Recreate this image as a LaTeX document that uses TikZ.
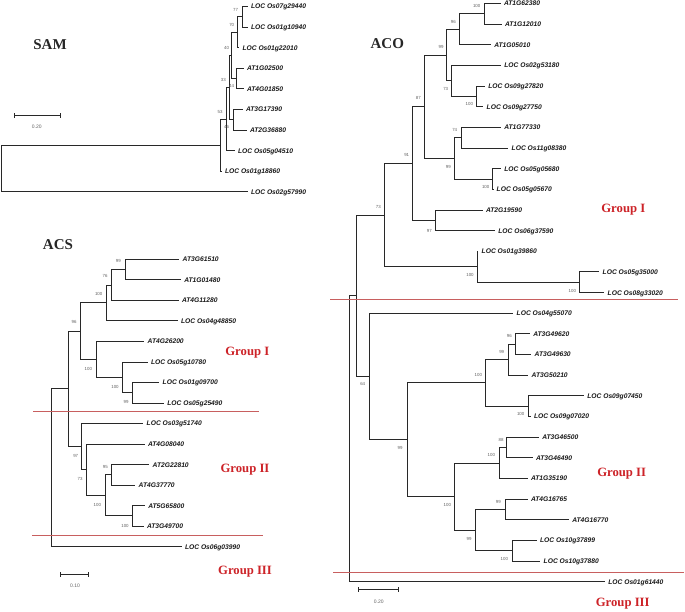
\documentclass[tikz,border=0pt]{standalone}
\usepackage{fontspec}
\setmainfont{Liberation Serif}
\newfontfamily\arialf{Liberation Sans}
\usetikzlibrary{arrows.meta}
\definecolor{treecol}{RGB}{40,40,40}
\definecolor{bootcol}{RGB}{100,100,100}
\definecolor{grpred}{RGB}{205,35,40}
\definecolor{sepcol}{RGB}{200,95,95}
\tikzset{
  tree/.style={draw=treecol, line width=0.95pt},
  leaf/.style={anchor=west, inner xsep=3.5pt, inner ysep=0pt, outer sep=0pt, text height=4.8pt, text depth=0pt, font=\arialf\bfseries\itshape\fontsize{6.7}{7}\selectfont, text=black!90},
  boot/.style={inner sep=0pt, font=\arialf\fontsize{4.4}{5}\selectfont, text=bootcol},
  title/.style={inner sep=0pt, font=\bfseries\fontsize{15}{17}\selectfont, text=black!85},
  grp/.style={inner sep=0pt, font=\bfseries\fontsize{12.7}{14}\selectfont, text=grpred},
  sep/.style={draw=sepcol, line width=1pt},
  sbar/.style={draw=treecol, line width=1pt, {Bar[width=4.5pt]}-{Bar[width=4.5pt]}},
  sblab/.style={inner sep=0pt, font=\arialf\fontsize{5}{6}\selectfont, text=bootcol}
}
\newcommand\lf[4]{\node[leaf] (#1) at (#2,#3) {#4};}
\newcommand\bs[3]{\node[boot] at (#1,#2) {#3};}
\newcommand\br[2]{\draw[tree] (#1) |- (#2);}
\begin{document}
\begin{tikzpicture}[x=1pt,y=-1pt]
\useasboundingbox[fill=white] (0,0) rectangle (685,611);

%================ SAM =================
\node[title] (samT) at (50,45) {SAM};
\lf{s1}{247.5}{6.5}{LOC Os07g29440}
\lf{s2}{247.5}{27.1}{LOC Os01g10940}
\lf{s3}{239}{47.7}{LOC Os01g22010}
\lf{s4}{243.5}{68.3}{AT1G02500}
\lf{s5}{243.5}{88.9}{AT4G01850}
\lf{s6}{242.5}{109.5}{AT3G17390}
\lf{s7}{246.5}{130.1}{AT2G36880}
\lf{s8}{234.5}{150.7}{LOC Os05g04510}
\lf{s9}{221.5}{171.3}{LOC Os01g18860}
\lf{s10}{247.5}{191.9}{LOC Os02g57990}
\coordinate (sa) at (242,16.8);
\coordinate (sb) at (237.5,32.25);
\coordinate (sc) at (236.5,78.6);
\coordinate (sd) at (231,55.4);
\coordinate (se) at (233,119.8);
\coordinate (sf) at (229,87.6);
\coordinate (sg) at (226.5,119.2);
\coordinate (sh) at (220,145.2);
\coordinate (sr) at (1,168.5);
\br{sa}{s1.west}\br{sa}{s2.west}
\br{sb}{sa}\br{sb}{s3.west}
\br{sc}{s4.west}\br{sc}{s5.west}
\br{sd}{sb}\br{sd}{sc}
\br{se}{s6.west}\br{se}{s7.west}
\br{sf}{sd}\br{sf}{se}
\br{sg}{sf}\br{sg}{s8.west}
\br{sh}{sg}\br{sh}{s9.west}
\br{sr}{sh}\br{sr}{s10.west}
\bs{235.5}{10}{77}
\bs{231.7}{25}{70}
\bs{226.5}{48.3}{40}
\bs{223.3}{80}{33}
\bs{231.5}{86}{44}
\bs{220}{112.3}{53}
\bs{226.5}{126.7}{46}
\coordinate (sb1) at (14.3,115.5);
\coordinate (sb2) at (61,115.5);
\draw[sbar] (sb1) -- (sb2);
\node[sblab] (sbl) at (36.7,127) {0.20};

%================ ACS =================
\node[title] (acsT) at (58,245) {ACS};
\lf{a1}{179.2}{259.3}{AT3G61510}
\lf{a2}{180.8}{279.8}{AT1G01480}
\lf{a3}{178.5}{300.4}{AT4G11280}
\lf{a4}{177.5}{320.9}{LOC Os04g48850}
\lf{a5}{144.2}{341.4}{AT4G26200}
\lf{a6}{147.5}{362.0}{LOC Os05g10780}
\lf{a7}{159.2}{382.5}{LOC Os01g09700}
\lf{a8}{163.8}{403.0}{LOC Os05g25490}
\lf{a9}{143.2}{423.5}{LOC Os03g51740}
\lf{a10}{144.5}{444.1}{AT4G08040}
\lf{a11}{149.2}{464.6}{AT2G22810}
\lf{a12}{135.2}{485.1}{AT4G37770}
\lf{a13}{144.8}{505.7}{AT5G65800}
\lf{a14}{143.5}{526.2}{AT3G49700}
\lf{a15}{181.5}{546.7}{LOC Os06g03990}
\coordinate (aa) at (125.3,269.55);
\coordinate (ab) at (111,285);
\coordinate (ac) at (106,302.95);
\coordinate (ad) at (132.7,392.75);
\coordinate (ae) at (122.7,377.4);
\coordinate (af) at (96,359.4);
\coordinate (ag) at (80,331.2);
\coordinate (ah) at (132.7,515.95);
\coordinate (ai) at (111.7,474.85);
\coordinate (aj) at (105,495.4);
\coordinate (ak) at (86.7,469.75);
\coordinate (al) at (81.7,446.6);
\coordinate (am) at (68.3,388.9);
\coordinate (ar) at (51,467.8);
\br{aa}{a1.west}\br{aa}{a2.west}
\br{ab}{aa}\br{ab}{a3.west}
\br{ac}{ab}\br{ac}{a4.west}
\br{ad}{a7.west}\br{ad}{a8.west}
\br{ae}{a6.west}\br{ae}{ad}
\br{af}{a5.west}\br{af}{ae}
\br{ag}{ac}\br{ag}{af}
\br{ah}{a13.west}\br{ah}{a14.west}
\br{ai}{a11.west}\br{ai}{a12.west}
\br{aj}{ai}\br{aj}{ah}
\br{ak}{a10.west}\br{ak}{aj}
\br{al}{a9.west}\br{al}{ak}
\br{am}{ag}\br{am}{al}
\br{ar}{am}\br{ar}{a15.west}
\bs{118.3}{260.7}{99}
\bs{105}{276}{76}
\bs{98.7}{294.3}{100}
\bs{74}{322.3}{96}
\bs{88.3}{369}{100}
\bs{115}{386.7}{100}
\bs{126}{402.3}{99}
\bs{75.7}{456}{97}
\bs{80}{479.3}{73}
\bs{105.3}{466.7}{95}
\bs{97.3}{505.3}{100}
\bs{125}{526}{100}
\coordinate (as1a) at (33,411.5);
\coordinate (as1b) at (259,411.5);
\coordinate (as2a) at (32,535.5);
\coordinate (as2b) at (263,535.5);
\draw[sep] (as1a) -- (as1b);
\draw[sep] (as2a) -- (as2b);
\node[grp] (ag1) at (247.3,352.7) {Group I};
\node[grp] (ag2) at (245,470) {Group II};
\node[grp] (ag3) at (245,571.7) {Group III};
\coordinate (ab1) at (60,574.5);
\coordinate (ab2) at (88.7,574.5);
\draw[sbar] (ab1) -- (ab2);
\node[sblab] (abl) at (75,586) {0.10};

%================ ACO =================
\node[title] (acoT) at (387.3,43.3) {ACO};
\lf{c0}{500.5}{3.5}{AT1G62380}
\lf{c1}{501.5}{24.15}{AT1G12010}
\lf{c2}{490.8}{44.8}{AT1G05010}
\lf{c3}{500.8}{65.45}{LOC Os02g53180}
\lf{c4}{484.8}{86.1}{LOC Os09g27820}
\lf{c5}{483.2}{106.75}{LOC Os09g27750}
\lf{c6}{500.8}{127.4}{AT1G77330}
\lf{c7}{508.2}{148.05}{LOC Os11g08380}
\lf{c8}{500.8}{168.7}{LOC Os05g05680}
\lf{c9}{493.2}{189.35}{LOC Os05g05670}
\lf{c10}{482.5}{210.0}{AT2G19590}
\lf{c11}{494.8}{230.65}{LOC Os06g37590}
\lf{c12}{478.2}{251.3}{LOC Os01g39860}
\lf{c13}{599.2}{271.95}{LOC Os05g35000}
\lf{c14}{604.2}{292.6}{LOC Os08g33020}
\lf{c15}{513.2}{313.25}{LOC Os04g55070}
\lf{c16}{529.8}{333.9}{AT3G49620}
\lf{c17}{531.2}{354.55}{AT3G49630}
\lf{c18}{528.2}{375.2}{AT3G50210}
\lf{c19}{583.8}{395.85}{LOC Os09g07450}
\lf{c20}{530.5}{416.5}{LOC Os09g07020}
\lf{c21}{538.8}{437.15}{AT3G46500}
\lf{c22}{532.5}{457.8}{AT3G46490}
\lf{c23}{527.5}{478.45}{AT1G35190}
\lf{c24}{527.5}{499.1}{AT4G16765}
\lf{c25}{568.8}{519.75}{AT4G16770}
\lf{c26}{536.5}{540.4}{LOC Os10g37899}
\lf{c27}{540.2}{561.05}{LOC Os10g37880}
\lf{c28}{604.8}{581.7}{LOC Os01g61440}
\coordinate (ca) at (484.3,13.8);
\coordinate (cb) at (459,29.3);
\coordinate (cc) at (476.7,96.4);
\coordinate (cd) at (451.7,80.9);
\coordinate (ce) at (446.7,55.1);
\coordinate (cf) at (461.7,137.7);
\coordinate (cg) at (492.7,179.0);
\coordinate (ch) at (454.3,158.35);
\coordinate (ci) at (424.7,106.7);
\coordinate (cj) at (435.3,220.3);
\coordinate (ck) at (412.7,163.5);
\coordinate (cl) at (579.3,282.3);
\coordinate (cm) at (477.3,266.8);
\coordinate (cn) at (384.3,215.15);
\coordinate (co) at (515,344.2);
\coordinate (cp) at (508.3,359.7);
\coordinate (cq) at (528.3,406.2);
\coordinate (cr) at (485.3,382.95);
\coordinate (cs) at (506.7,447.5);
\coordinate (ct) at (499.3,463.0);
\coordinate (cu) at (505,509.4);
\coordinate (cv) at (512,550.7);
\coordinate (cw) at (475,530.05);
\coordinate (cx) at (454.7,496.5);
\coordinate (cy) at (407,439.7);
\coordinate (cz) at (369,376.5);
\coordinate (cA) at (356.7,295.8);
\coordinate (cR) at (349,438.8);
\br{ca}{c0.west}\br{ca}{c1.west}
\br{cb}{ca}\br{cb}{c2.west}
\br{cc}{c4.west}\br{cc}{c5.west}
\br{cd}{c3.west}\br{cd}{cc}
\br{ce}{cb}\br{ce}{cd}
\br{cf}{c6.west}\br{cf}{c7.west}
\br{cg}{c8.west}\br{cg}{c9.west}
\br{ch}{cf}\br{ch}{cg}
\br{ci}{ce}\br{ci}{ch}
\br{cj}{c10.west}\br{cj}{c11.west}
\br{ck}{ci}\br{ck}{cj}
\br{cl}{c13.west}\br{cl}{c14.west}
\br{cm}{c12.west}\br{cm}{cl}
\br{cn}{ck}\br{cn}{cm}
\br{co}{c16.west}\br{co}{c17.west}
\br{cp}{co}\br{cp}{c18.west}
\br{cq}{c19.west}\br{cq}{c20.west}
\br{cr}{cp}\br{cr}{cq}
\br{cs}{c21.west}\br{cs}{c22.west}
\br{ct}{cs}\br{ct}{c23.west}
\br{cu}{c24.west}\br{cu}{c25.west}
\br{cv}{c26.west}\br{cv}{c27.west}
\br{cw}{cu}\br{cw}{cv}
\br{cx}{ct}\br{cx}{cw}
\br{cy}{cr}\br{cy}{cx}
\br{cz}{c15.west}\br{cz}{cy}
\br{cA}{cn}\br{cA}{cz}
\br{cR}{cA}\br{cR}{c28.west}
\bs{476.7}{5.7}{100}
\bs{453.3}{21.7}{96}
\bs{441}{47.3}{99}
\bs{445.7}{89.3}{73}
\bs{469.3}{104.3}{100}
\bs{418.3}{98.3}{87}
\bs{454.7}{130}{74}
\bs{448.3}{166.7}{99}
\bs{485.7}{186.7}{100}
\bs{406.7}{155}{91}
\bs{429.3}{230.7}{97}
\bs{378.3}{207.3}{73}
\bs{470}{275}{100}
\bs{572.3}{290.7}{100}
\bs{362.7}{384.3}{64}
\bs{509.3}{336}{96}
\bs{501.7}{352.3}{99}
\bs{478.3}{375}{100}
\bs{520.7}{414.3}{100}
\bs{400}{447.7}{99}
\bs{501}{440}{88}
\bs{491.3}{455}{100}
\bs{498.3}{502.3}{99}
\bs{447.3}{505}{100}
\bs{469}{539.3}{99}
\bs{504.3}{558.7}{100}
\coordinate (cs1a) at (330,299.5);
\coordinate (cs1b) at (678,299.5);
\coordinate (cs2a) at (333,572.5);
\coordinate (cs2b) at (684,572.5);
\draw[sep] (cs1a) -- (cs1b);
\draw[sep] (cs2a) -- (cs2b);
\node[grp] (cg1) at (623.3,210) {Group I};
\node[grp] (cg2) at (621.7,474) {Group II};
\node[grp] (cg3) at (622.7,603.3) {Group III};
\coordinate (cb1) at (358,589.5);
\coordinate (cb2) at (398.7,589.5);
\draw[sbar] (cb1) -- (cb2);
\node[sblab] (cbl) at (378.7,601.7) {0.20};
\end{tikzpicture}
\end{document}
